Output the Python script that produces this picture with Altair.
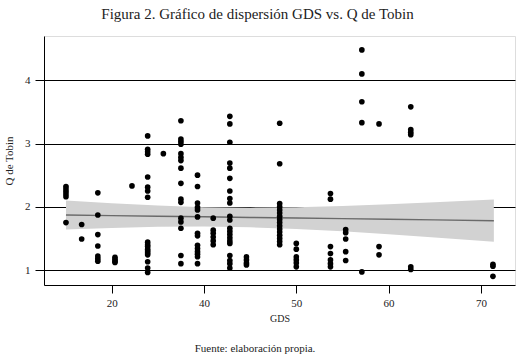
import altair as alt
import pandas as pd

# GDS columns (x) and the Q de Tobin values read at each column
col_x = [25.05, 26.75, 28.5, 30.36, 32.2, 33.9, 35.6, 37.5, 39.3, 41.0, 42.8,
         44.6, 48.2, 50.0, 53.7, 55.35, 57.1, 58.96, 62.4, 71.3]
col_q = [
    [2.32, 2.28, 2.24, 2.20, 2.16, 1.75],
    [1.72, 1.49],
    [2.22, 1.87, 1.56, 1.38, 1.22, 1.18, 1.14],
    [1.20, 1.17, 1.14, 1.12],
    [2.33],
    [3.12, 2.91, 2.87, 2.83, 2.47, 2.31, 2.25, 2.15, 1.44, 1.40, 1.37, 1.33,
     1.30, 1.27, 1.24, 1.13, 1.03, 0.96],
    [2.84],
    [3.36, 3.07, 3.03, 2.99, 2.84, 2.78, 2.73, 2.61, 2.37, 2.12, 2.07, 1.82,
     1.76, 1.66, 1.23, 1.10],
    [2.50, 2.32, 2.06, 1.99, 1.95, 1.84, 1.58, 1.54, 1.39, 1.34, 1.29, 1.25,
     1.21, 1.10],
    [1.82, 1.63, 1.58, 1.52, 1.46, 1.40],
    [3.43, 3.31, 3.02, 2.69, 2.61, 2.45, 2.25, 2.13, 2.06, 1.85, 1.79, 1.66,
     1.61, 1.56, 1.51, 1.46, 1.42, 1.23, 1.15, 1.10, 1.03],
    [1.21, 1.16, 1.11, 1.08],
    [3.32, 2.68, 2.05, 2.00, 1.95, 1.90, 1.85, 1.80, 1.75, 1.70, 1.65, 1.60,
     1.55, 1.50, 1.45, 1.40],
    [1.42, 1.33, 1.21, 1.16, 1.11, 1.05],
    [2.21, 2.12, 1.37, 1.26, 1.16, 1.10, 1.05],
    [1.64, 1.59, 1.49, 1.29, 1.15],
    [4.48, 4.10, 3.66, 3.33, 0.97],
    [3.31, 1.37, 1.24],
    [3.58, 3.22, 3.18, 3.14, 1.05, 1.01],
    [1.09, 1.06, 0.90],
]

# fitted line and confidence band
fit_x = [25.05, 30, 35, 40, 45, 50, 55, 60, 65, 71.4]
fit_y = [1.870, 1.860, 1.851, 1.841, 1.831, 1.822, 1.812, 1.802, 1.792, 1.780]
fit_lo = [1.64, 1.665, 1.683, 1.688, 1.676, 1.650, 1.611, 1.564, 1.513, 1.445]
fit_hi = [2.10, 2.055, 2.019, 1.994, 1.986, 1.994, 2.013, 2.040, 2.071, 2.115]

x_ticks = [30, 40, 50, 60, 70]
y_ticks = [1, 2, 3, 4]

FONT = "Liberation Serif"

pts = pd.DataFrame(
    [{"GDS": x, "Q": q} for x, qs in zip(col_x, col_q) for q in qs]
)
fit = pd.DataFrame({"GDS": fit_x, "fit": fit_y, "lo": fit_lo, "hi": fit_hi})

xscale = alt.Scale(domain=[22.67, 73.69], nice=False, zero=False)
yscale = alt.Scale(domain=[0.763, 4.70], nice=False, zero=False)

xaxis = alt.Axis(
    title="GDS", values=x_ticks, grid=False,
    labelExpr="datum.value == 30 ? '20' : datum.label",
    tickSize=8, tickColor="black", domainColor="black",
    labelFont=FONT, labelFontSize=11, labelColor="#222", labelPadding=4,
    titleFont=FONT, titleFontSize=10, titleFontWeight="normal",
    titleColor="#222", titlePadding=5,
)
yaxis = alt.Axis(
    title="Q de Tobin", values=y_ticks, format="d", grid=True,
    gridColor="black", gridWidth=1, gridOpacity=1,
    tickSize=9, tickColor="black", domainColor="black",
    labelFont=FONT, labelFontSize=11, labelColor="#222", labelPadding=5,
    titleFont=FONT, titleFontSize=11, titleFontWeight="normal",
    titleColor="#222", titlePadding=10,
)

band = alt.Chart(fit).mark_area(color="#d2d2d2", opacity=1).encode(
    x=alt.X("GDS:Q", scale=xscale, axis=xaxis),
    y=alt.Y("lo:Q", scale=yscale, axis=yaxis),
    y2="hi:Q",
)
line = alt.Chart(fit).mark_line(color="#6a6a6a", strokeWidth=1.4).encode(
    x=alt.X("GDS:Q", scale=xscale),
    y=alt.Y("fit:Q", scale=yscale),
)
points = alt.Chart(pts).mark_circle(color="black", size=32, opacity=1).encode(
    x=alt.X("GDS:Q", scale=xscale),
    y=alt.Y("Q:Q", scale=yscale),
)
caption = alt.Chart(pd.DataFrame({"t": ["Fuente: elaboración propia."]})).mark_text(
    font=FONT, fontSize=11, color="#222", align="center", baseline="middle"
).encode(text="t:N", x=alt.value(211), y=alt.value(313))

chart = alt.layer(band, line, points, caption).properties(
    width=471, height=249,
    padding={"left": 44, "top": 36, "right": 6, "bottom": 70},
    autosize=alt.AutoSizeParams(type="none"),
    title=alt.TitleParams(
        "Figura 2. Gráfico de dispersión GDS vs. Q de Tobin",
        font=FONT, fontSize=15, fontWeight="normal", color="#222",
        anchor="middle", dx=-22, offset=14,
    ),
).configure_view(stroke=None).configure(background="white", font=FONT)

chart.save("out.html", embed_options={"renderer": "svg", "actions": False})
